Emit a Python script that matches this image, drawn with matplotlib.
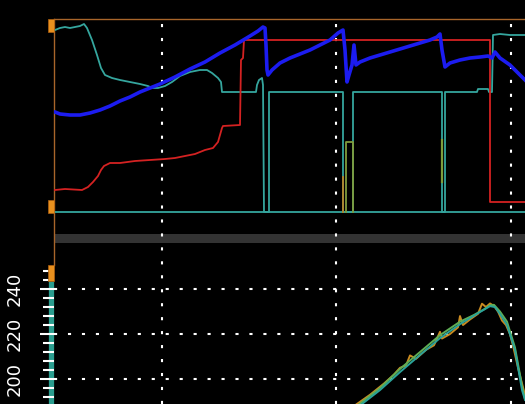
import matplotlib
matplotlib.use('Agg')
import matplotlib.pyplot as plt
from matplotlib.patches import Rectangle
from matplotlib.ticker import MultipleLocator

# ---- data (time in samples, top channels in raw level units) ----
teal_t = [0, 1, 6, 11, 16, 21, 26, 30, 33, 38, 43, 47, 51, 58, 66, 76, 86, 94, 98, 104, 111,
          118, 126, 136, 146, 153, 158, 164, 167, 168, 202, 203, 205, 208, 209, 210, 215, 215,
          289, 289, 299, 299, 388, 388, 391, 391, 423, 424, 434, 435, 438, 439, 446, 456, 471]
teal_v = [182, 182, 184, 185, 184, 185, 186, 188, 184, 172, 157, 144, 137, 134, 132, 130, 128, 126, 124, 124, 126,
          130, 136, 140, 142, 142, 139, 134, 130, 120, 120, 127, 132, 134, 127, 0, 0, 120,
          120, 0, 0, 120, 120, 0, 0, 120, 120, 123, 123, 120, 120, 177, 178, 177, 177]

blue_t = [0, 1, 6, 16, 26, 36, 46, 56, 66, 76, 86, 96, 106, 121, 136, 151, 166, 181, 196, 204, 209,
          211, 212, 213, 214, 218, 226, 236, 246, 256, 266, 276, 284, 289, 291, 293, 295, 298, 300,
          302, 306, 316, 326, 336, 346, 356, 366, 376, 383, 386, 388, 391, 396, 406, 416, 426, 434,
          438, 441, 446, 456, 466, 471]
blue_v = [100, 100, 98, 97, 97, 99, 102, 106, 111, 115, 120, 124, 128, 135, 143, 150, 159, 167, 176, 181, 185,
          184, 167, 142, 137, 142, 149, 154, 158, 162, 167, 172, 179, 182, 162, 130, 137, 147, 167,
          147, 150, 154, 157, 160, 163, 166, 169, 172, 175, 178, 162, 145, 149, 152, 154, 155, 156,
          154, 160, 154, 147, 137, 132]

red_t = [0, 1, 11, 28, 34, 39, 44, 47, 50, 56, 66, 81, 96, 111, 121, 131, 141, 151, 159, 164, 166,
         168, 169, 186, 187, 189, 190, 436, 436, 471]
red_v = [22, 22, 23, 22, 25, 30, 36, 42, 46, 49, 49, 51, 52, 53, 54, 56, 58, 62, 64, 70, 77,
         84, 86, 87, 152, 154, 172, 172, 10, 10]

flag_t = [292, 292, 299, 299]          # olive marker pulse
flag_v = [0, 70, 70, 0]
flag2_t = [388, 388]
flag2_v = [30, 72]
flag3_t = [289, 289]                   # short orange marker
flag3_v = [0, 35]
base_t = [0, 471]
base_v = [0, 0]

# lower panel (temperature-like channel, three sensors)
low_teal_t = [300, 308, 326, 346, 366, 386, 406, 426, 436, 441, 446, 453, 461, 468, 471]
low_teal_v = [186, 188.9, 195.1, 203.1, 210.7, 218.2, 224.4, 229.8, 232.4, 232.0, 228.9, 224.0, 212.9, 195.1, 190.7]
low_green_t = [300, 326, 346, 366, 386, 406, 420, 430, 436, 440, 446, 453, 461, 468, 471]
low_green_v = [187, 196, 204.5, 212, 219.5, 225.5, 228.5, 231, 232.8, 233, 230, 225.5, 214, 197, 191]
low_orange_t = [300, 316, 330, 340, 346, 352, 356, 362, 372, 380, 386, 388, 396, 404, 406, 409, 416,
                424, 428, 432, 436, 440, 444, 448, 452, 456, 460, 464, 468, 471]
low_orange_v = [188, 193, 198, 202, 205, 206, 210.5, 209, 213, 215, 221, 218, 220, 223, 228, 224, 226.5,
                229, 233.5, 232, 233.6, 232.5, 230, 226, 224, 220, 213, 205, 198, 193]

vgrid_t = [108, 282, 457]
low_ticks = [200, 220, 240]

W, H = 525, 404
fig = plt.figure(figsize=(W / 100, H / 100), dpi=100, facecolor='black')

def fx(px):
    return px / W

def fy(py):
    return (H - py) / H

dots = (0, (1.5, 5.2))

# background layer: dotted verticals, gray separator, spines
bg = fig.add_axes([fx(54), 0, fx(471), fy(19)])
bg.set_facecolor('black')
bg.set_xlim(0, 471)
bg.set_ylim(404, 19)
bg.axis('off')
bg.axhspan(234, 243, color='#333333', lw=0)
for t in vgrid_t:
    bg.axvline(t, color='white', lw=1.5, linestyle=dots)
bg.plot([0, 0], [19, 265], color='#a8652a', lw=1.0, clip_on=False)
bg.plot([0, 471], [19, 19], color='#a8652a', lw=1.0, clip_on=False)
bg.plot([-3.5, -3.5], [281, 404], color='#2a9d8f', lw=3.8, clip_on=False, solid_capstyle='butt')

# top panel
top = fig.add_axes([fx(54), fy(214), fx(471), fy(19) - fy(214)])
top.patch.set_alpha(0)
top.set_xlim(0, 471)
top.set_ylim(-2, 193)
top.axis('off')
top.plot(base_t, base_v, color='#35a69e', lw=1.3)
top.plot(teal_t, teal_v, color='#35a69e', lw=1.3)
top.plot(flag_t, flag_v, color='#7f9c3c', lw=1.3)
top.plot(flag2_t, flag2_v, color='#7f9c3c', lw=1.6)
top.plot(flag3_t, flag3_v, color='#b8862a', lw=1.3)
top.plot(red_t, red_v, color='#d42222', lw=1.3)
top.plot(blue_t, blue_v, color='#1c1cf0', lw=2.6)

# bottom panel
bot = fig.add_axes([fx(54), 0, fx(471), fy(265)])
bot.patch.set_alpha(0)
bot.set_xlim(0, 471)
bot.set_ylim(188.9, 250.7)
for s in bot.spines.values():
    s.set_visible(False)
bot.yaxis.set_major_locator(MultipleLocator(20))
bot.yaxis.set_minor_locator(MultipleLocator(4))
bot.set_yticks(low_ticks)
bot.set_yticklabels([str(v) for v in low_ticks], rotation=90, va='center')
bot.tick_params(axis='y', which='major', colors='white', length=10, width=1.5,
                pad=12, labelsize=13)
bot.tick_params(axis='y', which='minor', colors='white', length=8, width=1.5)
bot.set_xticks([])
bot.grid(axis='y', color='white', lw=1.5, linestyle=dots)
bot.plot(low_orange_t, low_orange_v, color='#c98a20', lw=1.4)
bot.plot(low_green_t, low_green_v, color='#5fae55', lw=1.4)
bot.plot(low_teal_t, low_teal_v, color='#2aa39a', lw=1.4)

# orange channel markers on the left edge
for y0, y1 in [(19, 32), (200, 213), (265, 281)]:
    fig.add_artist(Rectangle((fx(48), fy(y1)), fx(6), fy(y0) - fy(y1),
                             transform=fig.transFigure, facecolor='#e8901e',
                             edgecolor='#b06010', lw=0.5))

fig.savefig('out.png', dpi=100, facecolor='black')
